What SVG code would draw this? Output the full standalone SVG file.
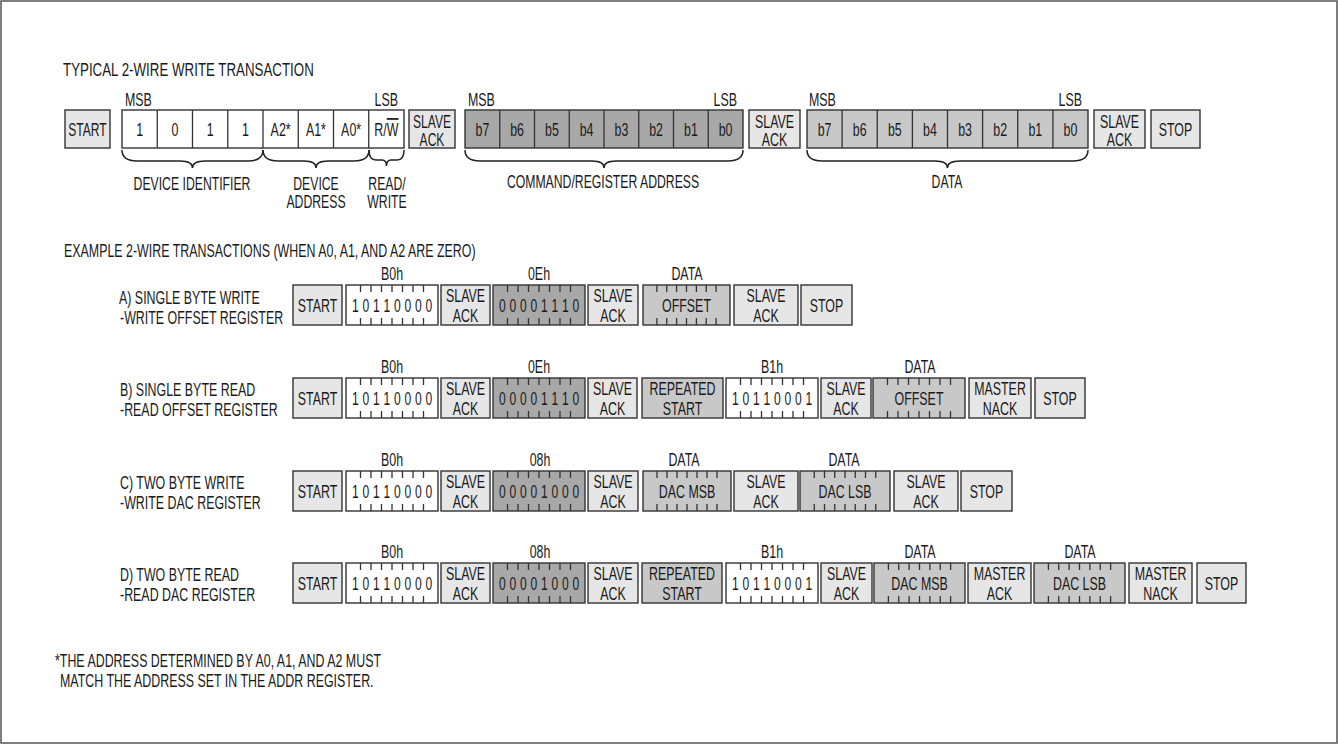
<svg xmlns="http://www.w3.org/2000/svg" xmlns:xlink="http://www.w3.org/1999/xlink" width="1338" height="745" viewBox="0 0 1338 745">
<style>
.t{font-family:"Liberation Sans",Arial,sans-serif;font-size:18px;fill:#1a1a1a}
.m{text-anchor:middle}
.e{text-anchor:end}
.bx{stroke:#333;stroke-width:1.4}
.lt{fill:#e6e6e6}
.wh{fill:#fff}
.md{fill:#c8c8c8}
.dk{fill:#a8a8a8}
.ln{stroke:#333;stroke-width:1.3;fill:none}
.br{stroke:#222;stroke-width:1.5;fill:none}
</style>
<defs>
<path id="tk92" class="ln" d="M14.5 0v7M25 0v7M35.5 0v7M46 0v7M56.5 0v7M67 0v7M77.5 0v7M14.5 33v7M25 33v7M35.5 33v7M46 33v7M56.5 33v7M67 33v7M77.5 33v7"/>
</defs>
<rect x="1" y="1" width="1336" height="742" fill="#fff" stroke="#555" stroke-width="1.5"/>

<g id="titles">
<text class="t" transform="translate(63 76) scale(.74 1)">TYPICAL 2-WIRE WRITE TRANSACTION</text>
<text class="t" transform="translate(64 257) scale(.69 1)">EXAMPLE 2-WIRE TRANSACTIONS (WHEN A0, A1, AND A2 ARE ZERO)</text>
<text class="t" transform="translate(55 667) scale(.69 1)">*THE ADDRESS DETERMINED BY A0, A1, AND A2 MUST</text>
<text class="t" transform="translate(60 687) scale(.69 1)">MATCH THE ADDRESS SET IN THE ADDR REGISTER.</text>
</g>

<!-- Typical transaction -->
<g id="typ-start"><rect class="bx lt" x="65" y="110" width="45" height="38"/><text class="t m" transform="translate(87.5 135.5) scale(.67 1)">START</text></g>
<g id="typ-device">
<rect class="bx wh" x="122" y="110" width="282" height="38"/>
<path class="ln" d="M157.25 110v38M192.5 110v38M227.75 110v38M263 110v38M298.25 110v38M333.5 110v38M368.75 110v38"/>
<text class="t" transform="translate(125 106) scale(.69 1)">MSB</text>
<text class="t e" transform="translate(398 106) scale(.69 1)">LSB</text>
<text class="t m" transform="translate(139.6 135.5) scale(.69 1)">1</text>
<text class="t m" transform="translate(174.9 135.5) scale(.69 1)">0</text>
<text class="t m" transform="translate(210.1 135.5) scale(.69 1)">1</text>
<text class="t m" transform="translate(245.4 135.5) scale(.69 1)">1</text>
<text class="t m" transform="translate(280.6 135.5) scale(.69 1)">A2*</text>
<text class="t m" transform="translate(315.9 135.5) scale(.69 1)">A1*</text>
<text class="t m" transform="translate(351.1 135.5) scale(.69 1)">A0*</text>
<text class="t m" transform="translate(386.4 135.5) scale(.69 1)">R/<tspan style="text-decoration:overline">W</tspan></text>
</g>
<g id="typ-ack1"><rect class="bx lt" x="409" y="110" width="46" height="38"/><text class="t m" transform="translate(432 127.5) scale(.67 1)">SLAVE</text><text class="t m" transform="translate(432 145.5) scale(.67 1)">ACK</text></g>
<g id="typ-cmd">
<rect class="bx dk" x="465" y="110" width="278" height="38"/>
<path class="ln" d="M499.75 110v38M534.5 110v38M569.25 110v38M604 110v38M638.75 110v38M673.5 110v38M708.25 110v38"/>
<text class="t" transform="translate(468 106) scale(.69 1)">MSB</text>
<text class="t e" transform="translate(737 106) scale(.69 1)">LSB</text>
<text class="t m" transform="translate(482.4 135.5) scale(.69 1)">b7</text>
<text class="t m" transform="translate(517.1 135.5) scale(.69 1)">b6</text>
<text class="t m" transform="translate(551.9 135.5) scale(.69 1)">b5</text>
<text class="t m" transform="translate(586.6 135.5) scale(.69 1)">b4</text>
<text class="t m" transform="translate(621.4 135.5) scale(.69 1)">b3</text>
<text class="t m" transform="translate(656.1 135.5) scale(.69 1)">b2</text>
<text class="t m" transform="translate(690.9 135.5) scale(.69 1)">b1</text>
<text class="t m" transform="translate(725.6 135.5) scale(.69 1)">b0</text>
</g>
<g id="typ-ack2"><rect class="bx lt" x="749" y="110" width="51" height="38"/><text class="t m" transform="translate(774.5 127.5) scale(.69 1)">SLAVE</text><text class="t m" transform="translate(774.5 145.5) scale(.69 1)">ACK</text></g>
<g id="typ-data">
<rect class="bx md" x="807" y="110" width="281" height="38"/>
<path class="ln" d="M842.1 110v38M877.25 110v38M912.4 110v38M947.5 110v38M982.6 110v38M1017.75 110v38M1052.9 110v38"/>
<text class="t" transform="translate(809 106) scale(.69 1)">MSB</text>
<text class="t e" transform="translate(1082 106) scale(.69 1)">LSB</text>
<text class="t m" transform="translate(824.6 135.5) scale(.69 1)">b7</text>
<text class="t m" transform="translate(859.7 135.5) scale(.69 1)">b6</text>
<text class="t m" transform="translate(894.8 135.5) scale(.69 1)">b5</text>
<text class="t m" transform="translate(930 135.5) scale(.69 1)">b4</text>
<text class="t m" transform="translate(965.1 135.5) scale(.69 1)">b3</text>
<text class="t m" transform="translate(1000.2 135.5) scale(.69 1)">b2</text>
<text class="t m" transform="translate(1035.3 135.5) scale(.69 1)">b1</text>
<text class="t m" transform="translate(1070.4 135.5) scale(.69 1)">b0</text>
</g>
<g id="typ-ack3"><rect class="bx lt" x="1094" y="110" width="51" height="38"/><text class="t m" transform="translate(1119.5 127.5) scale(.69 1)">SLAVE</text><text class="t m" transform="translate(1119.5 145.5) scale(.69 1)">ACK</text></g>
<g id="typ-stop"><rect class="bx lt" x="1151" y="110" width="49" height="38"/><text class="t m" transform="translate(1175.5 135.5) scale(.69 1)">STOP</text></g>

<g id="braces">
<path class="br" d="M122 150C122 158 127 161 137 161H180C188 161 192.5 163 192.5 168C192.5 163 197 161 205 161H248C258 161 263 158 263 150"/>
<path class="br" d="M263 150C263 158 268 161 278 161H304C312 161 316 163 316 168C316 163 320 161 328 161H354C364 161 369 158 369 150"/>
<path class="br" d="M369 150C369 156 371 160 376 160H382C385 160 386.5 162 386.5 166C386.5 162 388 160 391 160H397C402 160 404 156 404 150"/>
<path class="br" d="M465 150C465 158 470 161 480 161H592C600 161 604 163 604 168C604 163 608 161 616 161H728C738 161 743 158 743 150"/>
<path class="br" d="M807 150C807 158 812 161 822 161H935C943 161 947.5 163 947.5 168C947.5 163 952 161 960 161H1073C1083 161 1088 158 1088 150"/>
</g>
<g id="brace-labels">
<text class="t m" transform="translate(192 190) scale(.68 1)">DEVICE IDENTIFIER</text>
<text class="t m" transform="translate(316 190) scale(.68 1)">DEVICE</text>
<text class="t m" transform="translate(316 208) scale(.68 1)">ADDRESS</text>
<text class="t m" transform="translate(387 190) scale(.68 1)">READ/</text>
<text class="t m" transform="translate(387 208) scale(.68 1)">WRITE</text>
<text class="t m" transform="translate(603 188) scale(.68 1)">COMMAND/REGISTER ADDRESS</text>
<text class="t m" transform="translate(947 188) scale(.68 1)">DATA</text>
</g>

<!-- Row A -->
<g id="rowA">
<text class="t" transform="translate(119 304) scale(.69 1)">A) SINGLE BYTE WRITE</text>
<text class="t" transform="translate(120 324) scale(.69 1)">-WRITE OFFSET REGISTER</text>
<g id="a-start"><rect class="bx lt" x="293" y="285" width="49" height="40"/><text class="t m" transform="translate(317.5 311.5) scale(.69 1)">START</text></g>
<g id="a-addr"><rect class="bx wh" x="346" y="285" width="92" height="40"/><use xlink:href="#tk92" x="346" y="285"/><text class="t m" transform="translate(392 280) scale(.69 1)">B0h</text><text class="t m" transform="translate(346 311.5) scale(.67 1)" x="13.81 29.48 45.15 60.82 76.49 92.16 107.84 123.51">10110000</text></g>
<g id="a-ack1"><rect class="bx lt" x="441" y="285" width="49" height="40"/><text class="t m" transform="translate(465.5 302) scale(.69 1)">SLAVE</text><text class="t m" transform="translate(465.5 322) scale(.69 1)">ACK</text></g>
<g id="a-cmd"><rect class="bx dk" x="493" y="285" width="92" height="40"/><use xlink:href="#tk92" x="493" y="285"/><text class="t m" transform="translate(539 280) scale(.69 1)">0Eh</text><text class="t m" transform="translate(493 311.5) scale(.67 1)" x="13.81 29.48 45.15 60.82 76.49 92.16 107.84 123.51">00001110</text></g>
<g id="a-ack2"><rect class="bx lt" x="588" y="285" width="50" height="40"/><text class="t m" transform="translate(613 302) scale(.69 1)">SLAVE</text><text class="t m" transform="translate(613 322) scale(.69 1)">ACK</text></g>
<g id="a-data"><rect class="bx md" x="643" y="285" width="87" height="40"/><path class="ln" d="M656.9 285v7M666.75 285v7M676.6 285v7M686.5 285v7M696.4 285v7M706.25 285v7M716.1 285v7M656.9 318v7M666.75 318v7M676.6 318v7M686.5 318v7M696.4 318v7M706.25 318v7M716.1 318v7"/><text class="t m" transform="translate(687 280) scale(.69 1)">DATA</text><text class="t m" transform="translate(686.5 311.5) scale(.69 1)">OFFSET</text></g>
<g id="a-ack3"><rect class="bx lt" x="734" y="285" width="64" height="40"/><text class="t m" transform="translate(766 302) scale(.69 1)">SLAVE</text><text class="t m" transform="translate(766 322) scale(.69 1)">ACK</text></g>
<g id="a-stop"><rect class="bx lt" x="801" y="285" width="51" height="40"/><text class="t m" transform="translate(826.5 311.5) scale(.69 1)">STOP</text></g>
</g>

<!-- Row B -->
<g id="rowB">
<text class="t" transform="translate(120 396) scale(.69 1)">B) SINGLE BYTE READ</text>
<text class="t" transform="translate(120 416) scale(.69 1)">-READ OFFSET REGISTER</text>
<g id="b-start"><rect class="bx lt" x="293" y="378" width="49" height="40"/><text class="t m" transform="translate(317.5 404.5) scale(.69 1)">START</text></g>
<g id="b-addr"><rect class="bx wh" x="346" y="378" width="92" height="40"/><use xlink:href="#tk92" x="346" y="378"/><text class="t m" transform="translate(392 373) scale(.69 1)">B0h</text><text class="t m" transform="translate(346 404.5) scale(.67 1)" x="13.81 29.48 45.15 60.82 76.49 92.16 107.84 123.51">10110000</text></g>
<g id="b-ack1"><rect class="bx lt" x="441" y="378" width="49" height="40"/><text class="t m" transform="translate(465.5 395) scale(.69 1)">SLAVE</text><text class="t m" transform="translate(465.5 415) scale(.69 1)">ACK</text></g>
<g id="b-cmd"><rect class="bx dk" x="493" y="378" width="92" height="40"/><use xlink:href="#tk92" x="493" y="378"/><text class="t m" transform="translate(539 373) scale(.69 1)">0Eh</text><text class="t m" transform="translate(493 404.5) scale(.67 1)" x="13.81 29.48 45.15 60.82 76.49 92.16 107.84 123.51">00001110</text></g>
<g id="b-ack2"><rect class="bx lt" x="588" y="378" width="49" height="40"/><text class="t m" transform="translate(612.5 395) scale(.69 1)">SLAVE</text><text class="t m" transform="translate(612.5 415) scale(.69 1)">ACK</text></g>
<g id="b-rstart"><rect class="bx md" x="642" y="378" width="81" height="40"/><text class="t m" transform="translate(682.5 395) scale(.69 1)">REPEATED</text><text class="t m" transform="translate(682.5 415) scale(.69 1)">START</text></g>
<g id="b-addr2"><rect class="bx wh" x="726" y="378" width="92" height="40"/><use xlink:href="#tk92" x="726" y="378"/><text class="t m" transform="translate(772 373) scale(.69 1)">B1h</text><text class="t m" transform="translate(726 404.5) scale(.67 1)" x="13.81 29.48 45.15 60.82 76.49 92.16 107.84 123.51">10110001</text></g>
<g id="b-ack3"><rect class="bx lt" x="821" y="378" width="50" height="40"/><text class="t m" transform="translate(846 395) scale(.69 1)">SLAVE</text><text class="t m" transform="translate(846 415) scale(.69 1)">ACK</text></g>
<g id="b-data"><rect class="bx md" x="873" y="378" width="92" height="40"/><use xlink:href="#tk92" x="873" y="378"/><text class="t m" transform="translate(920 373) scale(.69 1)">DATA</text><text class="t m" transform="translate(919 404.5) scale(.69 1)">OFFSET</text></g>
<g id="b-nack"><rect class="bx lt" x="969" y="378" width="62" height="40"/><text class="t m" transform="translate(1000 395) scale(.69 1)">MASTER</text><text class="t m" transform="translate(1000 415) scale(.69 1)">NACK</text></g>
<g id="b-stop"><rect class="bx lt" x="1035" y="378" width="50" height="40"/><text class="t m" transform="translate(1060 404.5) scale(.69 1)">STOP</text></g>
</g>

<!-- Row C -->
<g id="rowC">
<text class="t" transform="translate(120 489) scale(.69 1)">C) TWO BYTE WRITE</text>
<text class="t" transform="translate(120 509) scale(.69 1)">-WRITE DAC REGISTER</text>
<g id="c-start"><rect class="bx lt" x="293" y="471" width="49" height="40"/><text class="t m" transform="translate(317.5 497.5) scale(.69 1)">START</text></g>
<g id="c-addr"><rect class="bx wh" x="346" y="471" width="92" height="40"/><use xlink:href="#tk92" x="346" y="471"/><text class="t m" transform="translate(392 466) scale(.69 1)">B0h</text><text class="t m" transform="translate(346 497.5) scale(.67 1)" x="13.81 29.48 45.15 60.82 76.49 92.16 107.84 123.51">10110000</text></g>
<g id="c-ack1"><rect class="bx lt" x="441" y="471" width="49" height="40"/><text class="t m" transform="translate(465.5 488) scale(.69 1)">SLAVE</text><text class="t m" transform="translate(465.5 508) scale(.69 1)">ACK</text></g>
<g id="c-cmd"><rect class="bx dk" x="493" y="471" width="92" height="40"/><use xlink:href="#tk92" x="493" y="471"/><text class="t m" transform="translate(540 466) scale(.69 1)">08h</text><text class="t m" transform="translate(493 497.5) scale(.67 1)" x="13.81 29.48 45.15 60.82 76.49 92.16 107.84 123.51">00001000</text></g>
<g id="c-ack2"><rect class="bx lt" x="588" y="471" width="50" height="40"/><text class="t m" transform="translate(613 488) scale(.69 1)">SLAVE</text><text class="t m" transform="translate(613 508) scale(.69 1)">ACK</text></g>
<g id="c-data1"><rect class="bx md" x="643" y="471" width="88" height="40"/><path class="ln" d="M657 471v7M667 471v7M677 471v7M687 471v7M697 471v7M707 471v7M717 471v7M657 504v7M667 504v7M677 504v7M687 504v7M697 504v7M707 504v7M717 504v7"/><text class="t m" transform="translate(684 466) scale(.69 1)">DATA</text><text class="t m" transform="translate(687 497.5) scale(.69 1)">DAC MSB</text></g>
<g id="c-ack3"><rect class="bx lt" x="734" y="471" width="64" height="40"/><text class="t m" transform="translate(766 488) scale(.69 1)">SLAVE</text><text class="t m" transform="translate(766 508) scale(.69 1)">ACK</text></g>
<g id="c-data2"><rect class="bx md" x="800" y="471" width="90" height="40"/><path class="ln" d="M814.25 471v7M824.5 471v7M834.75 471v7M845 471v7M855.25 471v7M865.5 471v7M875.75 471v7M814.25 504v7M824.5 504v7M834.75 504v7M845 504v7M855.25 504v7M865.5 504v7M875.75 504v7"/><text class="t m" transform="translate(844 466) scale(.69 1)">DATA</text><text class="t m" transform="translate(845 497.5) scale(.69 1)">DAC LSB</text></g>
<g id="c-ack4"><rect class="bx lt" x="894" y="471" width="64" height="40"/><text class="t m" transform="translate(926 488) scale(.69 1)">SLAVE</text><text class="t m" transform="translate(926 508) scale(.69 1)">ACK</text></g>
<g id="c-stop"><rect class="bx lt" x="961" y="471" width="51" height="40"/><text class="t m" transform="translate(986.5 497.5) scale(.69 1)">STOP</text></g>
</g>

<!-- Row D -->
<g id="rowD">
<text class="t" transform="translate(120 581) scale(.69 1)">D) TWO BYTE READ</text>
<text class="t" transform="translate(120 601) scale(.69 1)">-READ DAC REGISTER</text>
<g id="d-start"><rect class="bx lt" x="293" y="563" width="49" height="40"/><text class="t m" transform="translate(317.5 589.5) scale(.69 1)">START</text></g>
<g id="d-addr"><rect class="bx wh" x="346" y="563" width="92" height="40"/><use xlink:href="#tk92" x="346" y="563"/><text class="t m" transform="translate(392 558) scale(.69 1)">B0h</text><text class="t m" transform="translate(346 589.5) scale(.67 1)" x="13.81 29.48 45.15 60.82 76.49 92.16 107.84 123.51">10110000</text></g>
<g id="d-ack1"><rect class="bx lt" x="441" y="563" width="49" height="40"/><text class="t m" transform="translate(465.5 580) scale(.69 1)">SLAVE</text><text class="t m" transform="translate(465.5 600) scale(.69 1)">ACK</text></g>
<g id="d-cmd"><rect class="bx dk" x="493" y="563" width="92" height="40"/><use xlink:href="#tk92" x="493" y="563"/><text class="t m" transform="translate(540 558) scale(.69 1)">08h</text><text class="t m" transform="translate(493 589.5) scale(.67 1)" x="13.81 29.48 45.15 60.82 76.49 92.16 107.84 123.51">00001000</text></g>
<g id="d-ack2"><rect class="bx lt" x="588" y="563" width="50" height="40"/><text class="t m" transform="translate(613 580) scale(.69 1)">SLAVE</text><text class="t m" transform="translate(613 600) scale(.69 1)">ACK</text></g>
<g id="d-rstart"><rect class="bx md" x="642" y="563" width="80" height="40"/><text class="t m" transform="translate(682 580) scale(.69 1)">REPEATED</text><text class="t m" transform="translate(682 600) scale(.69 1)">START</text></g>
<g id="d-addr2"><rect class="bx wh" x="726" y="563" width="92" height="40"/><use xlink:href="#tk92" x="726" y="563"/><text class="t m" transform="translate(772 558) scale(.69 1)">B1h</text><text class="t m" transform="translate(726 589.5) scale(.67 1)" x="13.81 29.48 45.15 60.82 76.49 92.16 107.84 123.51">10110001</text></g>
<g id="d-ack3"><rect class="bx lt" x="821" y="563" width="51" height="40"/><text class="t m" transform="translate(846.5 580) scale(.69 1)">SLAVE</text><text class="t m" transform="translate(846.5 600) scale(.69 1)">ACK</text></g>
<g id="d-data1"><rect class="bx md" x="874" y="563" width="91" height="40"/><path class="ln" d="M888.4 563v7M898.75 563v7M909.1 563v7M919.5 563v7M929.9 563v7M940.25 563v7M950.6 563v7M888.4 596v7M898.75 596v7M909.1 596v7M919.5 596v7M929.9 596v7M940.25 596v7M950.6 596v7"/><text class="t m" transform="translate(920 558) scale(.69 1)">DATA</text><text class="t m" transform="translate(919.5 589.5) scale(.69 1)">DAC MSB</text></g>
<g id="d-mack"><rect class="bx lt" x="968" y="563" width="63" height="40"/><text class="t m" transform="translate(999.5 580) scale(.69 1)">MASTER</text><text class="t m" transform="translate(999.5 600) scale(.69 1)">ACK</text></g>
<g id="d-data2"><rect class="bx md" x="1034" y="563" width="91" height="40"/><path class="ln" d="M1048.4 563v7M1058.75 563v7M1069.1 563v7M1079.5 563v7M1089.9 563v7M1100.25 563v7M1110.6 563v7M1048.4 596v7M1058.75 596v7M1069.1 596v7M1079.5 596v7M1089.9 596v7M1100.25 596v7M1110.6 596v7"/><text class="t m" transform="translate(1080 558) scale(.69 1)">DATA</text><text class="t m" transform="translate(1079.5 589.5) scale(.69 1)">DAC LSB</text></g>
<g id="d-nack"><rect class="bx lt" x="1129" y="563" width="63" height="40"/><text class="t m" transform="translate(1160.5 580) scale(.69 1)">MASTER</text><text class="t m" transform="translate(1160.5 600) scale(.69 1)">NACK</text></g>
<g id="d-stop"><rect class="bx lt" x="1197" y="563" width="49" height="40"/><text class="t m" transform="translate(1221.5 589.5) scale(.69 1)">STOP</text></g>
</g>
</svg>
